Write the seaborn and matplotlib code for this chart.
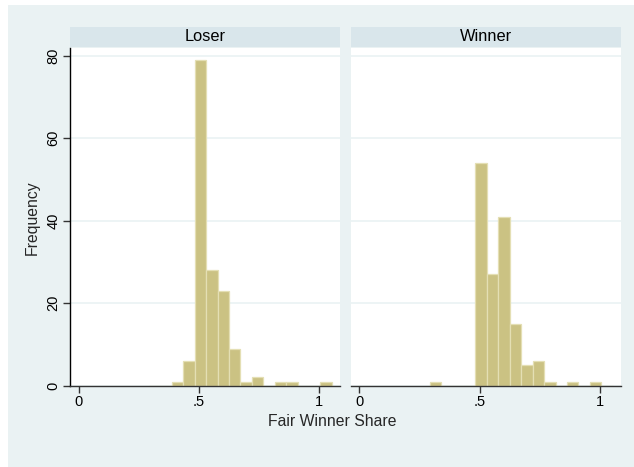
import numpy as np
import pandas as pd
import matplotlib
matplotlib.use("Agg")
import matplotlib.pyplot as plt
import seaborn as sns
from matplotlib.patches import Rectangle

# ---- data ----
panels = ["Loser", "Winner"]
bin_start = 0.292
bin_width = 0.0476
loser_counts = [0, 0, 1, 6, 79, 28, 23, 9, 1, 2, 0, 1, 1, 0, 0, 1]
winner_counts = [1, 0, 0, 0, 54, 27, 41, 15, 5, 6, 1, 0, 1, 0, 1, 0]
x_ticks = [0, 0.5, 1]
x_tick_labels = ["0", ".5", "1"]
y_ticks = [0, 20, 40, 60, 80]
y_tick_labels = ["0", "20", "40", "60", "80"]

n_bins = len(loser_counts)
edges = [float(bin_start + bin_width * k) for k in range(n_bins + 1)]
centers = [e + bin_width / 2 for e in edges[:-1]]
df = pd.DataFrame({
    "share": centers + centers,
    "count": loser_counts + winner_counts,
    "group": [panels[0]] * n_bins + [panels[1]] * n_bins,
})

sns.set_theme(style="white")
plt.rcParams["font.family"] = ["Liberation Sans", "DejaVu Sans"]

W, H = 634, 467
fig = plt.figure(figsize=(W / 100, H / 100), dpi=100)
fig.patch.set_facecolor("white")
BG = "#EAF2F3"
STRIP = "#D9E6EB"
BAR = "#CBC283"
BAR_EDGE = "#E4DFB4"

# outer graph region
fig.patches.append(Rectangle((8 / W, 0), 1 - 8 / W, 1 - 5 / H, transform=fig.transFigure,
                             facecolor=BG, edgecolor="none", zorder=-10))

def fx(px):
    return px / W

def fy(py):
    return 1 - py / H

plot_top, plot_bot = 48.0, 385.7
strip_top, strip_bot = 26.7, 46.7
panel_x = [(70.3, 340.0), (350.7, 621.0)]

for i, (name, (x0, x1)) in enumerate(zip(panels, panel_x)):
    ax = fig.add_axes([fx(x0), fy(plot_bot), fx(x1) - fx(x0), fy(plot_top) - fy(plot_bot)])
    ax.set_facecolor("white")
    sub = df[df["group"] == name]
    sns.histplot(data=sub, x="share", weights="count", bins=edges, ax=ax,
                 color=BAR, edgecolor=BAR_EDGE, linewidth=0.9, alpha=1, stat="count")
    ax.set_xlim(-0.036, 1.0875)
    ax.set_ylim(0, 81.9)
    ax.set_yticks(y_ticks)
    ax.grid(axis="y", color=BG, linewidth=1.2)
    ax.set_axisbelow(True)
    ax.set_xlabel("")
    ax.set_ylabel("")
    for s in ["top", "right"]:
        ax.spines[s].set_visible(False)
    ax.spines["bottom"].set_color("#333333")
    ax.spines["bottom"].set_linewidth(1.0)
    ax.set_xticks(x_ticks)
    ax.set_xticklabels(x_tick_labels, fontsize=10.5)
    ax.tick_params(axis="x", direction="out", length=5, width=1, color="#333333",
                   pad=2, bottom=True, labelcolor="black")
    if i == 0:
        ax.spines["left"].set_color("black")
        ax.spines["left"].set_linewidth(1.0)
        ax.set_yticklabels(y_tick_labels, fontsize=10.5, rotation=90, va="center")
        ax.tick_params(axis="y", direction="out", length=5, width=1, color="#333333",
                       pad=2, left=True, labelcolor="black")
    else:
        ax.spines["left"].set_visible(False)
        ax.tick_params(axis="y", left=False, labelleft=False)
    # strip header
    fig.patches.append(Rectangle((fx(x0), fy(strip_bot)), fx(x1) - fx(x0), fy(strip_top) - fy(strip_bot),
                                 transform=fig.transFigure, facecolor=STRIP, edgecolor="none", zorder=-5))
    fig.text((fx(x0) + fx(x1)) / 2, (fy(strip_top) + fy(strip_bot)) / 2, name,
             ha="center", va="center", fontsize=11.8, color="black")

fig.text(fx(332), fy(422), "Fair Winner Share", ha="center", va="center", fontsize=11.3)
fig.text(fx(32), fy(218), "Frequency", ha="center", va="center", rotation=90, fontsize=11.3)

fig.savefig("out.png", dpi=100)
